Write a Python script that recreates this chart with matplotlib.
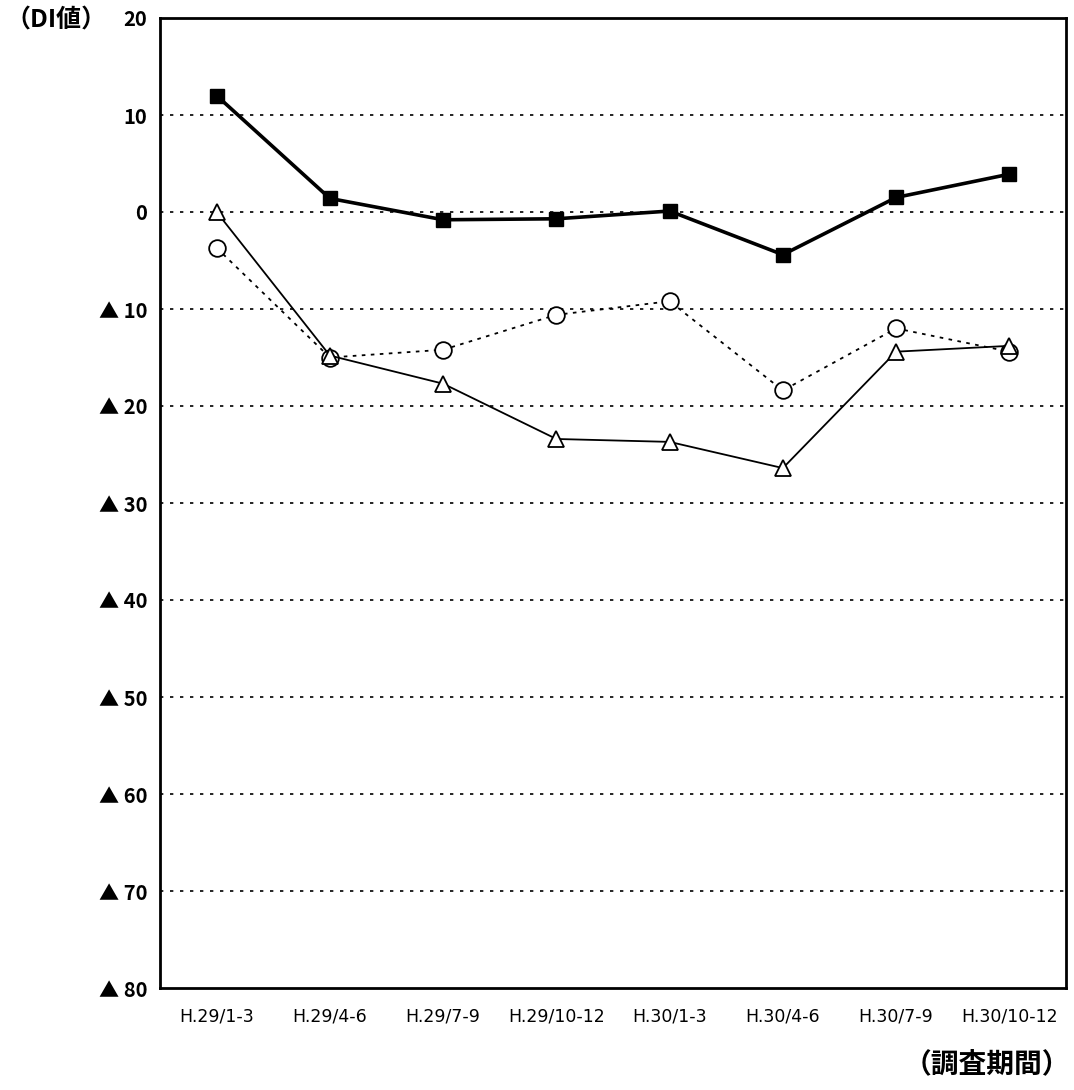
import matplotlib
matplotlib.use("Agg")
import matplotlib.pyplot as plt

plt.rcParams['font.family'] = ['Noto Sans CJK JP', 'DejaVu Sans']

periods = ["H.29/1-3", "H.29/4-6", "H.29/7-9", "H.29/10-12",
           "H.30/1-3", "H.30/4-6", "H.30/7-9", "H.30/10-12"]
squares = [12.0, 1.4, -0.8, -0.7, 0.1, -4.4, 1.5, 3.9]
triangles = [0.0, -14.8, -17.7, -23.4, -23.7, -26.4, -14.4, -13.8]
circles = [-3.7, -15.0, -14.2, -10.6, -9.2, -18.4, -12.0, -14.4]
yticks = [20, 10, 0, -10, -20, -30, -40, -50, -60, -70, -80]
ytick_labels = ["20", "10", "0", "▲ 10", "▲ 20", "▲ 30", "▲ 40",
                "▲ 50", "▲ 60", "▲ 70", "▲ 80"]

fig = plt.figure(figsize=(10.74, 10.90), dpi=100)
ax = fig.add_axes([160 / 1074, 102 / 1090, 906 / 1074, 970 / 1090])

x = list(range(len(periods)))

for yv in yticks[1:-1]:
    ax.axhline(yv, color="black", lw=1.2, ls=(0, (2, 4)), zorder=1)

ax.plot(x, circles, color="black", lw=1.3, ls=(0, (2, 3)), marker="o",
        ms=12, mfc="white", mec="black", mew=1.3, zorder=3)
ax.plot(x, triangles, color="black", lw=1.3, marker="^",
        ms=11, mfc="white", mec="black", mew=1.3, zorder=4)
ax.plot(x, squares, color="black", lw=2.6, marker="s",
        ms=10, mfc="black", mec="black", zorder=5)

ax.set_xlim(-0.5, len(periods) - 0.5)
ax.set_ylim(-80, 20)
ax.set_xticks(x)
ax.set_xticklabels(periods, fontsize=12.5, family=["DejaVu Sans"])
ax.set_yticks(yticks)
ax.set_yticklabels(ytick_labels, fontsize=14.5, fontweight="bold")
ax.tick_params(length=0)
ax.tick_params(axis="x", pad=14)
ax.tick_params(axis="y", pad=9)
for s in ax.spines.values():
    s.set_linewidth(2)

fig.text(5 / 1074, 1 - 20 / 1090, "（DI値）", fontsize=18, fontweight="bold",
         ha="left", va="center")
fig.text(1070 / 1074, 1 - 1064 / 1090, "（調査期間）", fontsize=20,
         fontweight="bold", ha="right", va="center")

fig.savefig("out.png", dpi=100)
